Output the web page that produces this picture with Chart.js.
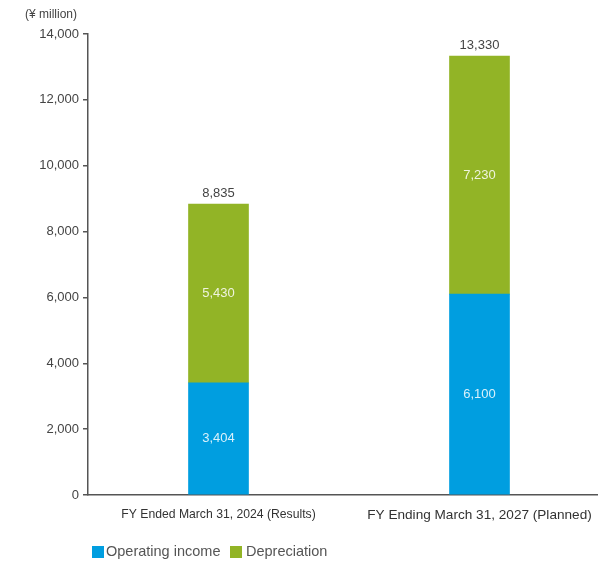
<!DOCTYPE html>
<html>
<head>
<meta charset="utf-8">
<script src="https://cdn.jsdelivr.net/npm/chart.js@4/dist/chart.umd.min.js"></script>
<style>
  html, body { margin: 0; padding: 0; background: #fff; overflow: hidden; }
  #wrap { width: 598px; height: 563px; overflow: hidden; }
</style>
</head>
<body>
<div id="wrap"><canvas id="bar_chart" width="610" height="563"></canvas></div>
<script>
var categories = ["FY Ended March 31, 2024 (Results)", "FY Ending March 31, 2027 (Planned)"];
var operatingIncome = [3404, 6100];
var depreciation = [5430, 7230];
var totals = [8835, 13330];
var yTicks = [0, 2000, 4000, 6000, 8000, 10000, 12000, 14000];

var BLUE = '#009ee0';
var GREEN = '#92b426';

function fmt(v) {
    return v.toLocaleString('en-US');
}

// value labels inside the bars and totals on top, plus unit text and legend
var labelsPlugin = {
    id: 'labels',
    afterDatasetsDraw: function (chart) {
        var ctx = chart.ctx;
        ctx.save();
        ctx.textAlign = 'center';
        ctx.textBaseline = 'middle';
        ctx.font = '13px "Liberation Sans", Arial, sans-serif';
        chart.data.datasets.forEach(function (ds, di) {
            chart.getDatasetMeta(di).data.forEach(function (bar, i) {
                var mid = (bar.y + bar.base) / 2;
                ctx.fillStyle = 'rgba(255,255,255,0.85)';
                ctx.fillText(fmt(ds.data[i]), bar.x, mid);
            });
        });
        var top = chart.getDatasetMeta(1).data;
        ctx.fillStyle = '#444';
        top.forEach(function (bar, i) {
            ctx.fillText(fmt(totals[i]), bar.x, bar.y - 11);
        });

        ctx.textAlign = 'left';
        ctx.fillStyle = '#444';
        ctx.font = '12px "Liberation Sans", Arial, sans-serif';
        ctx.fillText('(¥ million)', 25, 15);

        // legend
        ctx.font = '14.5px "Liberation Sans", Arial, sans-serif';
        var lx = 92, ly = 552;
        ctx.fillStyle = BLUE;
        ctx.fillRect(lx, ly - 6, 12, 12);
        ctx.fillStyle = '#555';
        ctx.fillText('Operating income', lx + 14, ly);
        ctx.fillStyle = GREEN;
        ctx.fillRect(230, ly - 6, 12, 12);
        ctx.fillStyle = '#555';
        ctx.fillText('Depreciation', 246, ly);
        ctx.restore();
    }
};

new Chart(document.getElementById("bar_chart").getContext("2d"), {
    type: 'bar',
    data: {
        labels: categories,
        datasets: [{
            label: "Operating income",
            data: operatingIncome,
            backgroundColor: BLUE
        }, {
            label: "Depreciation",
            data: depreciation,
            backgroundColor: GREEN
        }]
    },
    options: {
        responsive: false,
        animation: false,
        layout: { padding: { top: 34, left: 0, right: 0, bottom: 0 } },
        plugins: {
            legend: { display: false },
            tooltip: { enabled: false }
        },
        datasets: { bar: { barThickness: 60 } },
        scales: {
            x: {
                stacked: true,
                grid: { display: false, drawTicks: false },
                border: { display: true, color: '#555', width: 1.5 },
                ticks: {
                    color: '#333',
                    padding: 12,
                    maxRotation: 0,
                    autoSkip: false,
                    font: function (c) {
                        return { family: '"Liberation Sans", Arial, sans-serif', size: c.index === 0 ? 12.2 : 13.6 };
                    }
                },
                afterFit: function (s) { s.height = 68; }
            },
            y: {
                stacked: true,
                min: 0,
                max: 14000,
                afterBuildTicks: function (s) {
                    s.ticks = yTicks.map(function (v) { return { value: v }; });
                },
                grid: { drawOnChartArea: false, drawTicks: true, tickLength: 5, color: '#555', lineWidth: 1.5 },
                border: { display: true, color: '#555', width: 1.5 },
                ticks: {
                    color: '#444',
                    padding: 4,
                    font: { family: '"Liberation Sans", Arial, sans-serif', size: 13 },
                    callback: function (v) { return fmt(v); }
                },
                afterFit: function (s) { s.width = 88; }
            }
        }
    },
    plugins: [labelsPlugin]
});
</script>
</body>
</html>
